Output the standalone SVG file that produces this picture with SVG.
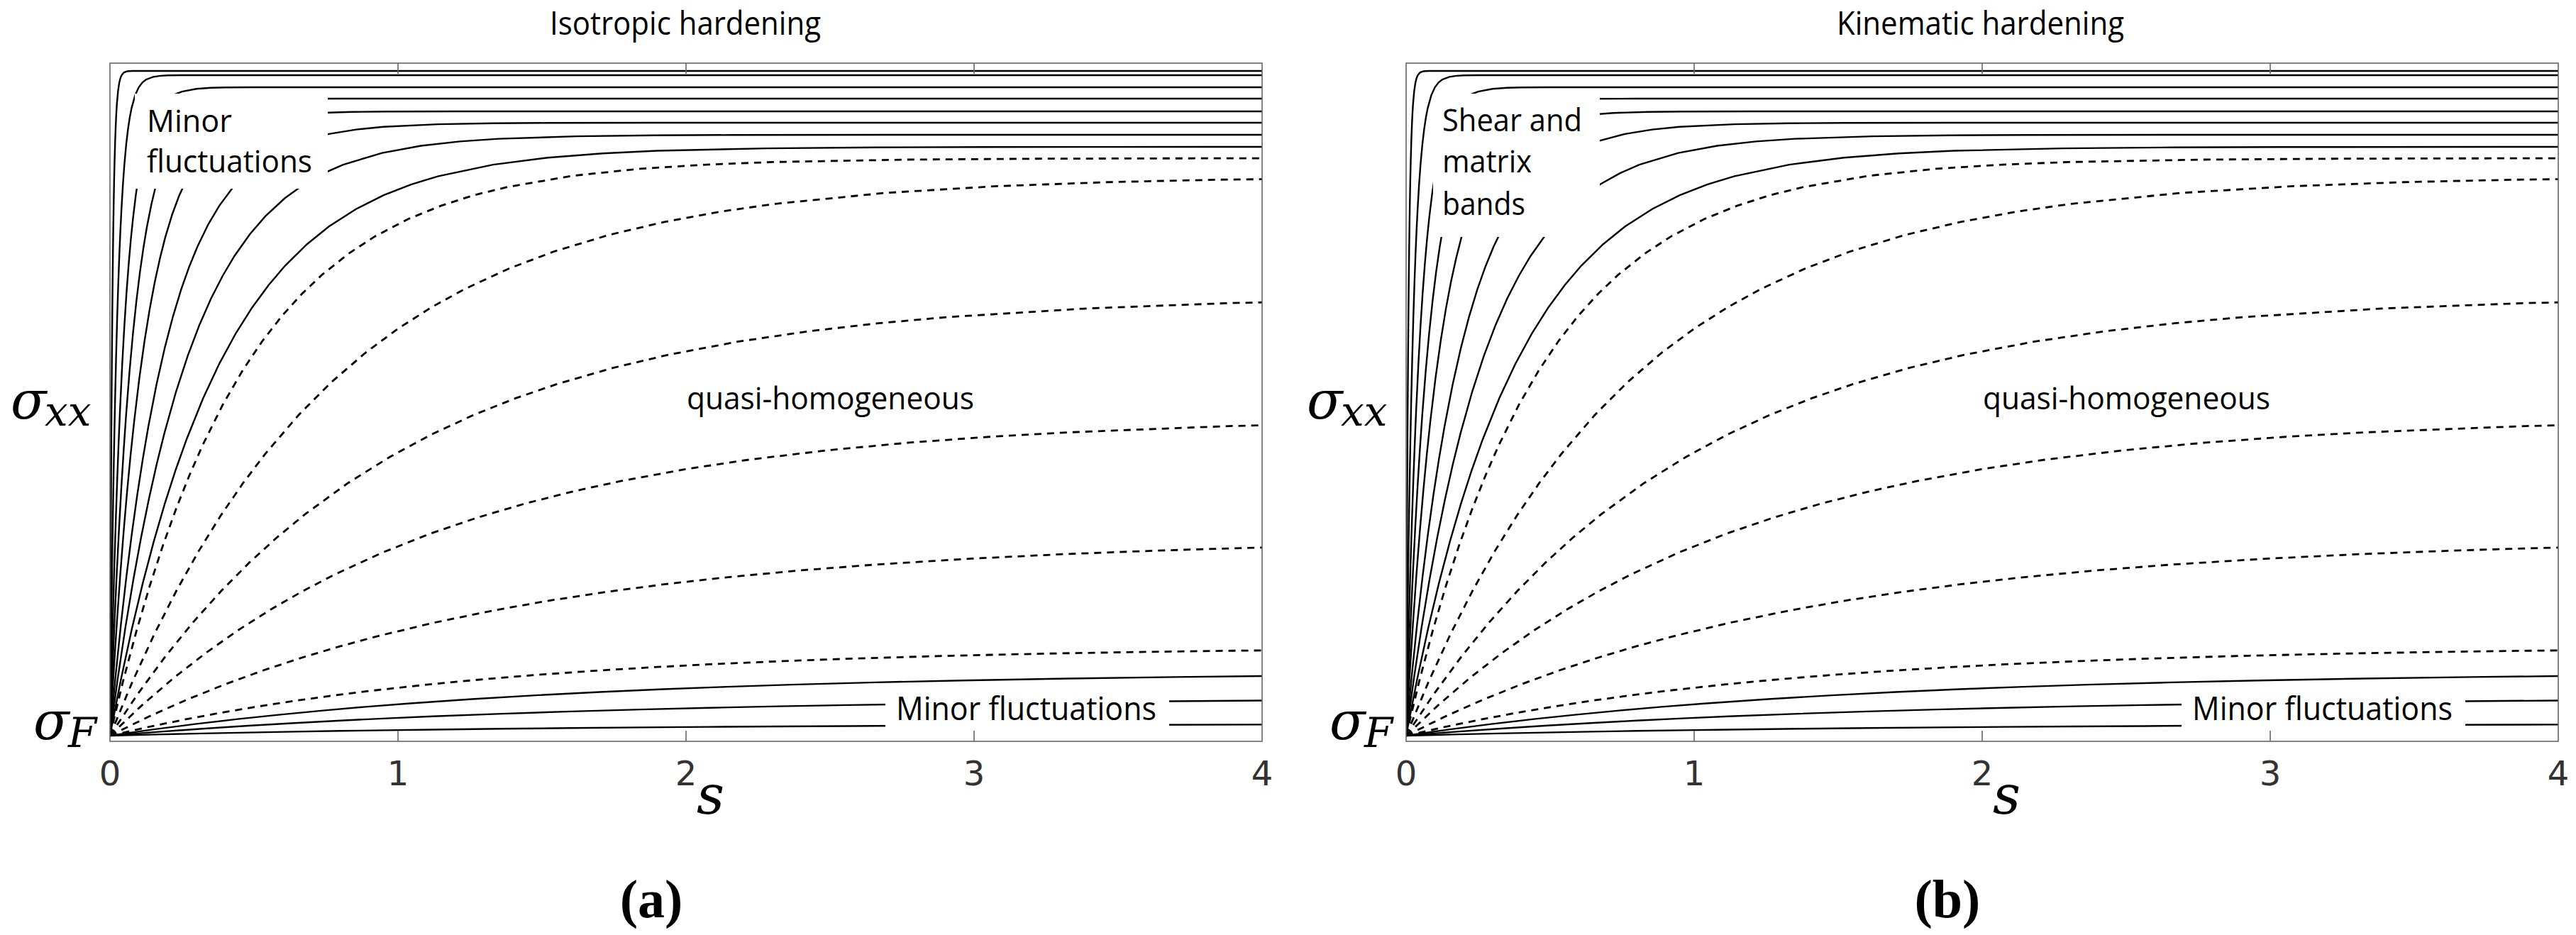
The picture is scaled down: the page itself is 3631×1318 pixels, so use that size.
<svg xmlns="http://www.w3.org/2000/svg" xmlns:xlink="http://www.w3.org/1999/xlink" width="3631" height="1318" viewBox="0 0 3631 1318">
<style>
.c{fill:none;stroke:#000;stroke-width:2.4}
.d{fill:none;stroke:#000;stroke-width:2.8;stroke-dasharray:10 8}
.ax{fill:none;stroke:#666;stroke-width:1.6}
.lab{font-family:"Open Sans","Liberation Sans",sans-serif;fill:#000}
.tk{font-family:"DejaVu Sans",sans-serif;font-size:48px;fill:#333;text-anchor:middle}
.cap{font-family:"Liberation Serif",serif;font-weight:bold;font-size:76px;text-anchor:middle}
</style>
<defs>
<path id="u" vector-effect="non-scaling-stroke" d="M0,0 L0.1,0.0952 0.2,0.1813 0.3,0.2592 0.4,0.3297 0.5,0.3935 0.6,0.4512 0.7,0.5034 0.85,0.5726 1,0.6321 1.15,0.6834 1.3,0.7275 1.45,0.7654 1.6,0.7981 1.8,0.8347 2,0.8647 2.25,0.8946 2.5,0.9179 2.75,0.9361 3,0.9502 3.5,0.9698 4,0.9817 4.5,0.9889 5,0.9933 6,0.9975 7,0.9991 8,0.9997 10,1 2000,1"/>
<clipPath id="cp"><rect x="155" y="89" width="1624" height="956"/></clipPath>
<g id="curves">
<g clip-path="url(#cp)">
<use xlink:href="#u" class="c" transform="translate(155 1037) scale(3.25 -937)"/>
<use xlink:href="#u" class="c" transform="translate(155 1037) scale(10.15 -931)"/>
<use xlink:href="#u" class="c" transform="translate(155 1037) scale(20.3 -914)"/>
<use xlink:href="#u" class="c" transform="translate(155 1037) scale(32.5 -898)"/>
<use xlink:href="#u" class="c" transform="translate(155 1037) scale(48.7 -880)"/>
<use xlink:href="#u" class="c" transform="translate(155 1037) scale(77.1 -864)"/>
<use xlink:href="#u" class="c" transform="translate(155 1037) scale(109.6 -847)"/>
<use xlink:href="#u" class="c" transform="translate(155 1037) scale(154.3 -830)"/>
<use xlink:href="#u" class="d" transform="translate(155 1037) scale(186.8 -814)"/>
<use xlink:href="#u" class="d" transform="translate(155 1037) scale(312.6 -789)"/>
<use xlink:href="#u" class="d" transform="translate(155 1037) scale(393.8 -621)"/>
<use xlink:href="#u" class="d" transform="translate(155 1037) scale(450.7 -450)"/>
<use xlink:href="#u" class="d" transform="translate(155 1037) scale(540 -279)"/>
<use xlink:href="#u" class="d" transform="translate(155 1037) scale(527.8 -126)"/>
<use xlink:href="#u" class="c" transform="translate(155 1037) scale(600 -90)"/>
<use xlink:href="#u" class="c" transform="translate(155 1037) scale(650 -54)"/>
<use xlink:href="#u" class="c" transform="translate(155 1037) scale(650 -17)"/>
</g>
</g>
<g id="axes">
<rect class="ax" x="155" y="89" width="1624" height="956"/>
<path class="ax" d="M561,89v15M967,89v15M1373,89v15M561,1045v-15M967,1045v-15M1373,1045v-15"/>
<text class="tk" x="155" y="1107">0</text>
<text class="tk" x="561" y="1107">1</text>
<text class="tk" x="967" y="1107">2</text>
<text class="tk" x="1373" y="1107">3</text>
<text class="tk" x="1779" y="1107">4</text>
<text x="982" y="1147" font-family="'DejaVu Serif',serif" font-style="italic" font-size="76">s</text>
<text x="15" y="590" font-family="'DejaVu Serif',serif" font-style="italic" font-size="74">σ</text>
<text x="63" y="600" font-family="'DejaVu Serif',serif" font-style="italic" font-size="58">xx</text>
<text x="47" y="1042" font-family="'DejaVu Serif',serif" font-style="italic" font-size="74">σ</text>
<text x="96" y="1053" font-family="'DejaVu Serif',serif" font-style="italic" font-size="58">F</text>
</g>
</defs>
<g id="plot-a">
<use xlink:href="#curves"/>
<rect x="190" y="132" width="272" height="134" fill="#fff"/>
<rect x="1248" y="976" width="400" height="54" fill="#fff"/>
<use xlink:href="#axes"/>
<text class="lab" x="775" y="49" font-size="46" textLength="382" lengthAdjust="spacingAndGlyphs">Isotropic hardening</text>
<text class="lab" x="207" y="186" font-size="44" textLength="120" lengthAdjust="spacingAndGlyphs">Minor</text>
<text class="lab" x="207" y="243" font-size="44" textLength="233" lengthAdjust="spacingAndGlyphs">fluctuations</text>
<text class="lab" x="968" y="577" font-size="44" textLength="405" lengthAdjust="spacingAndGlyphs">quasi-homogeneous</text>
<text class="lab" x="1263" y="1015" font-size="46" textLength="367" lengthAdjust="spacingAndGlyphs">Minor fluctuations</text>
<text class="cap" x="918" y="1293">(a)</text>
</g>
<g id="plot-b" transform="translate(1827 0)">
<use xlink:href="#curves"/>
<rect x="193" y="132" width="235" height="202" fill="#fff"/>
<rect x="1248" y="976" width="400" height="54" fill="#fff"/>
<use xlink:href="#axes"/>
<text class="lab" x="762" y="49" font-size="46" textLength="405" lengthAdjust="spacingAndGlyphs">Kinematic hardening</text>
<text class="lab" x="206" y="185" font-size="44" textLength="197" lengthAdjust="spacingAndGlyphs">Shear and</text>
<text class="lab" x="206" y="243" font-size="44" textLength="126" lengthAdjust="spacingAndGlyphs">matrix</text>
<text class="lab" x="206" y="303" font-size="44" textLength="117" lengthAdjust="spacingAndGlyphs">bands</text>
<text class="lab" x="968" y="577" font-size="44" textLength="405" lengthAdjust="spacingAndGlyphs">quasi-homogeneous</text>
<text class="lab" x="1263" y="1015" font-size="46" textLength="367" lengthAdjust="spacingAndGlyphs">Minor fluctuations</text>
<text class="cap" x="918" y="1293">(b)</text>
</g>
</svg>
